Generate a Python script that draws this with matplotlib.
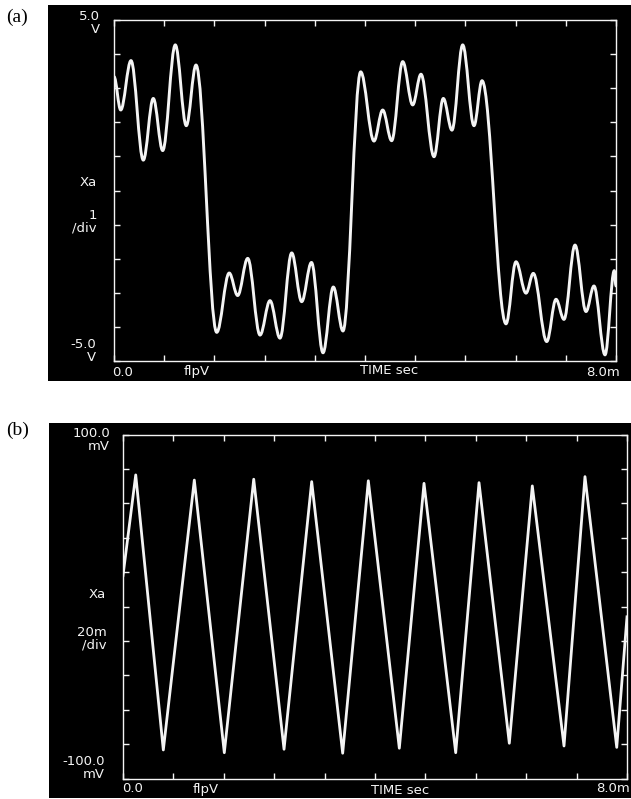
import numpy as np
import matplotlib
matplotlib.use("Agg")
import matplotlib.pyplot as plt
from matplotlib.path import Path
from matplotlib.patches import PathPatch, Rectangle

# ---------------- data ----------------
# Panel (a): turning points of the trace, time in ms, amplitude in V
a_time = [0.0, 0.107, 0.271, 0.467, 0.626, 0.776, 0.977, 1.152, 1.307,
          1.637, 1.836, 1.971, 2.131, 2.327, 2.486, 2.645, 2.832, 2.991,
          3.147, 3.331, 3.495, 3.649, 3.931, 4.143, 4.282, 4.425, 4.601,
          4.760, 4.892, 5.100, 5.248, 5.386, 5.557, 5.737, 5.865, 6.247,
          6.406, 6.566, 6.682, 6.896, 7.044, 7.171, 7.347, 7.522, 7.649,
          7.825, 7.973, 8.0]
a_volt = [3.34, 2.36, 3.81, 0.89, 2.70, 1.17, 4.27, 1.90, 3.68,
          -4.16, -2.42, -3.08, -1.99, -4.24, -3.23, -4.33, -1.83, -3.26,
          -2.11, -4.76, -2.83, -4.12, 3.48, 1.45, 2.36, 1.46, 3.78,
          2.51, 3.41, 0.99, 2.70, 1.77, 4.27, 1.90, 3.22, -3.91,
          -2.09, -3.01, -2.43, -4.43, -3.19, -3.78, -1.60, -3.55, -2.80,
          -4.82, -2.35, -2.80]

# Panel (b): vertices of the triangle wave, time in ms, amplitude in mV
b_time = [0.0, 0.202, 0.640, 1.132, 1.608, 2.075, 2.556, 2.995, 3.487,
          3.894, 4.386, 4.778, 5.281, 5.651, 6.132, 6.497, 7.000, 7.333,
          7.837, 8.0]
b_mv = [18.0, 76.5, -83.4, 73.5, -85.0, 74.0, -83.0, 72.6, -85.3,
        73.1, -82.4, 71.6, -85.0, 72.0, -79.5, 70.1, -81.1, 75.5,
        -81.9, -6.0]

a_yrange = (-5.0, 5.0)
b_yrange = (-100.0, 100.0)
t_range = (0.0, 8.0)

# ---------------- figure ----------------
W, H = 631, 799
fig = plt.figure(figsize=(W / 100, H / 100), dpi=100, facecolor="white")


def fx(px):
    return px / W


def fy(py):
    return 1 - py / H


def box(l, t, r, b):
    return [fx(l), fy(b), fx(r) - fx(l), fy(t) - fy(b)]


# black screen backgrounds
for (l, t, r, b) in [(48, 5, 631, 381), (49, 423, 631, 798)]:
    fig.patches.append(Rectangle((fx(l), fy(b)), fx(r) - fx(l), fy(t) - fy(b),
                                 transform=fig.transFigure, facecolor="black",
                                 edgecolor="none", zorder=-5))

WHITE = "#f4f4f4"


def setup(ax, yr):
    ax.set_zorder(2)
    ax.set_facecolor("black")
    ax.set_xlim(*t_range)
    ax.set_ylim(*yr)
    ax.set_xticks(np.linspace(t_range[0], t_range[1], 11))
    ax.set_yticks(np.linspace(yr[0], yr[1], 11))
    ax.tick_params(direction="in", length=4, width=1, colors=WHITE,
                   top=True, right=True, labelbottom=False, labelleft=False)
    for s in ax.spines.values():
        s.set_color(WHITE)
        s.set_linewidth(1.0)


ax_a = fig.add_axes(box(114, 20, 616, 361))
setup(ax_a, a_yrange)

# smooth trace through turning points (horizontal tangent at each)
k = 0.36
verts = [(a_time[0], a_volt[0])]
codes = [Path.MOVETO]
for i in range(len(a_time) - 1):
    t0, v0, t1, v1 = a_time[i], a_volt[i], a_time[i + 1], a_volt[i + 1]
    dt = t1 - t0
    verts += [(t0 + k * dt, v0), (t1 - k * dt, v1), (t1, v1)]
    codes += [Path.CURVE4] * 3
ax_a.add_patch(PathPatch(Path(verts, codes), facecolor="none",
                         edgecolor=WHITE, linewidth=2.1, capstyle="round",
                         joinstyle="round", transform=ax_a.transData))

ax_b = fig.add_axes(box(123, 434.5, 627, 778.5))
setup(ax_b, b_yrange)
ax_b.plot(b_time, b_mv, color=WHITE, linewidth=2.0, solid_joinstyle="round")

# ---------------- texts ----------------
SANS = dict(color=WHITE, fontsize=9.5, family="DejaVu Sans", zorder=5)


def T(px, py, s, ha="right", **kw):
    d = dict(SANS)
    d.update(kw)
    fig.text(fx(px), fy(py), s, ha=ha, va="center", multialignment="right",
             linespacing=0.95, **d)


fig.text(fx(6), fy(17), "(a)", ha="left", va="center", fontsize=14,
         family="Liberation Serif", color="black")
fig.text(fx(6), fy(430), "(b)", ha="left", va="center", fontsize=14,
         family="Liberation Serif", color="black")

# panel (a) labels
T(100, 23, "5.0\nV")
T(97, 182, "Xa")
T(97, 222, "1\n/div")
T(96, 351, "-5.0\nV")
T(112, 372, "0.0", ha="left")
T(184, 372, "flpV", ha="left")
T(389, 371, "TIME sec", ha="center")
T(620, 372, "8.0m")

# panel (b) labels
T(110, 440, "100.0\nmV")
T(106, 595, "Xa")
T(107, 639, "20m\n/div")
T(105, 768, "-100.0\nmV")
T(122, 789, "0.0", ha="left")
T(193, 789, "flpV", ha="left")
T(400, 790, "TIME sec", ha="center")
T(630, 789, "8.0m")

fig.savefig("out.png", dpi=100, facecolor="white")
